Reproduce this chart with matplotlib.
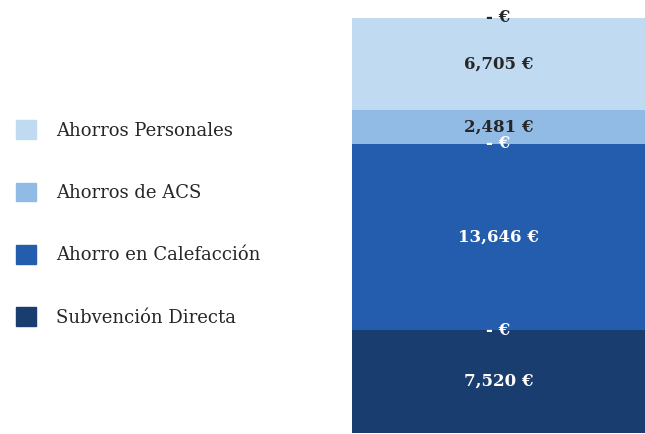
import matplotlib.pyplot as plt
from matplotlib.patches import Patch

# Stacked savings breakdown (bottom to top), zero-valued series included
series = ['Subvención Directa', 'Otros 1', 'Ahorro en Calefacción', 'Otros 2',
          'Ahorros de ACS', 'Ahorros Personales', 'Otros 3']
values = [7520, 0, 13646, 0, 2481, 6705, 0]
colors = ['#1a3d6f', '#1a3d6f', '#245dad', '#245dad', '#91bbe4', '#bfdaf1', '#bfdaf1']
text_colors = ['white', 'white', 'white', 'white', '#262626', '#262626', '#262626']
legend_series = ['Ahorros Personales', 'Ahorros de ACS', 'Ahorro en Calefacción', 'Subvención Directa']

plt.rcParams['font.family'] = ['DejaVu Serif']

fig = plt.figure(figsize=(6.45, 4.34), dpi=100)
ax = fig.add_axes([352 / 645, 1 / 434, 293 / 645, 415 / 434])

bottom = 0
for name, v, c, tc in zip(series, values, colors, text_colors):
    ax.bar(0, v, width=1.0, bottom=bottom, color=c, linewidth=0)
    label = f'{v:,} €' if v else '- €'
    ypos = bottom + v / 2
    ax.text(0, ypos, label, ha='center', va='center', color=tc,
            fontsize=12, fontweight='bold')
    bottom += v

ax.set_xlim(-0.5, 0.5)
ax.set_ylim(0, sum(values))
ax.axis('off')

handles = [Patch(color=colors[series.index(s)], label=s) for s in legend_series]
fig.legend(handles=handles, loc='upper left', bbox_to_anchor=(-0.001, 0.76),
           frameon=False, fontsize=13, labelspacing=2.38,
           handlelength=1.15, handleheight=1.2, handletextpad=1.1,
           labelcolor='#262626')

fig.savefig('out.png', dpi=100)
